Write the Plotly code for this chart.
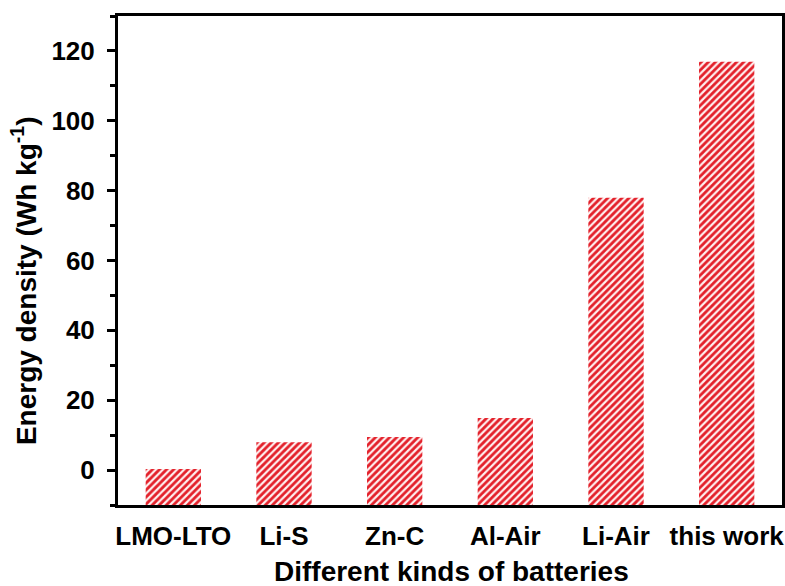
import plotly.graph_objects as go

categories = ["LMO-LTO", "Li-S", "Zn-C", "Al-Air", "Li-Air", "this work"]
energy_density = [0.3, 8.0, 9.5, 14.9, 78.0, 116.9]
y_ticks = [0, 20, 40, 60, 80, 100, 120]

BASE = -10
FONT = "Arial, Liberation Sans, Helvetica, sans-serif"
RED = "#e3202a"

fig = go.Figure()
fig.add_trace(go.Bar(
    x=categories,
    y=[v - BASE for v in energy_density],
    base=BASE,
    width=0.5,
    marker=dict(
        color="white",
        line=dict(width=0),
        pattern=dict(shape="/", fgcolor=RED, fgopacity=1, bgcolor="#fff0f0",
                     size=5, solidity=0.55, fillmode="replace"),
    ),
    hovertemplate="%{x}: %{customdata}<extra></extra>",
    customdata=energy_density,
))

fig.update_layout(
    width=785, height=586,
    margin=dict(l=118, r=3, t=16, b=81),
    plot_bgcolor="white", paper_bgcolor="white",
    showlegend=False,
    font=dict(family=FONT, color="black"),
)
fig.update_xaxes(
    range=[-0.5, 5.5], automargin=False,
    showline=True, linewidth=3, linecolor="black", mirror=True,
    ticks="", showgrid=False, zeroline=False,
    tickfont=dict(size=26, family=FONT, weight="bold"),
    ticklabelstandoff=6,
)
fig.update_yaxes(
    range=[-10, 130], automargin=False,
    tickvals=y_ticks,
    showline=True, linewidth=3, linecolor="black", mirror=True,
    ticks="outside", ticklen=8, tickwidth=2.5, tickcolor="black",
    minor=dict(dtick=10, tick0=0, ticks="outside", ticklen=5, tickwidth=2.5, tickcolor="black", showgrid=False),
    showgrid=False, zeroline=False,
    tickfont=dict(size=26, family=FONT, weight="bold"),
    ticklabelstandoff=7,
)
fig.add_annotation(
    text="Different kinds of batteries",
    xref="paper", yref="paper", x=0.502, y=-0.137,
    xanchor="center", yanchor="middle", showarrow=False,
    font=dict(size=28, family=FONT, weight="bold", color="black"),
)
fig.add_annotation(
    text="Energy density (Wh kg<sup>-1</sup>)",
    xref="paper", yref="paper", x=-0.1415, y=0.458,
    xanchor="center", yanchor="middle", textangle=-90, showarrow=False,
    font=dict(size=28, family=FONT, weight="bold", color="black"),
)

fig.write_html("out.html")
